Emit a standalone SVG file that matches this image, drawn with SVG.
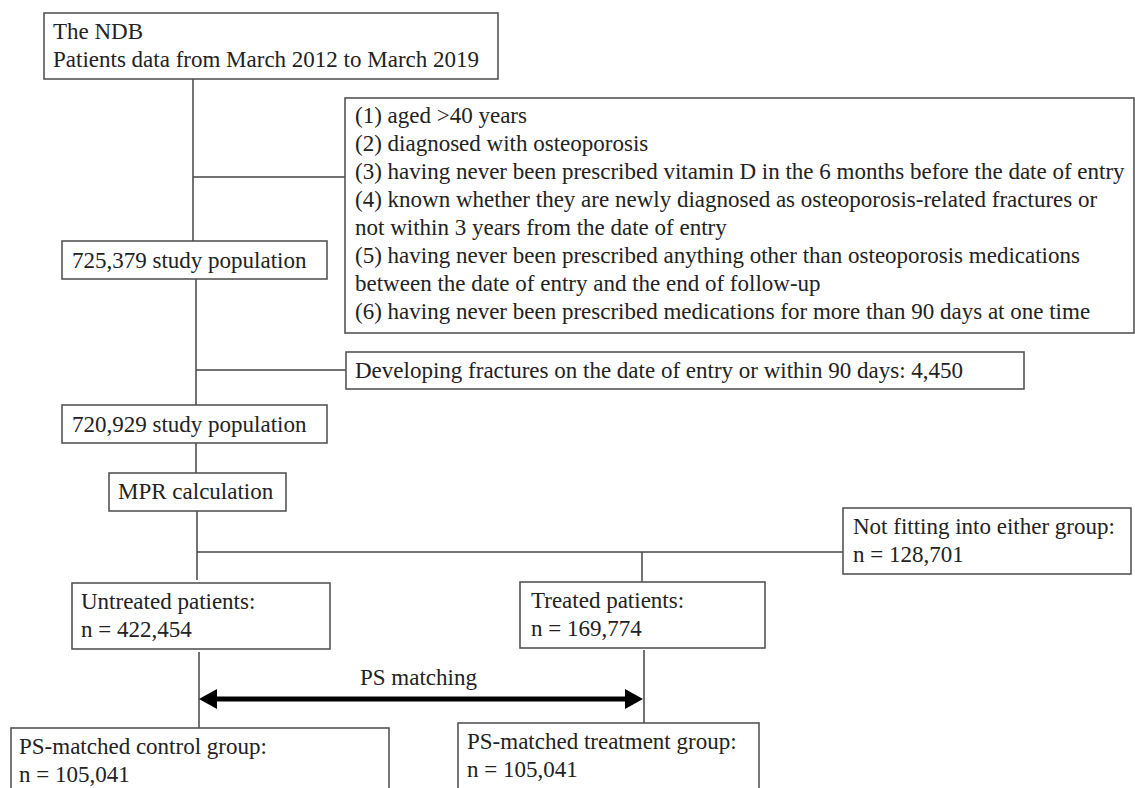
<svg xmlns="http://www.w3.org/2000/svg" width="1135" height="788" viewBox="0 0 1135 788">
<style>
.box{fill:#fff;stroke:#555;stroke-width:1.6}
.t{font-family:"Liberation Serif","Times New Roman",serif;font-size:23px;fill:#222}
.c{stroke:#444;stroke-width:1.5;fill:none}
.arr{stroke:#000;stroke-width:5;fill:none}
</style>
<defs>
<marker id="ah" viewBox="0 0 18 20" refX="4" refY="10" markerWidth="18" markerHeight="20" markerUnits="userSpaceOnUse" orient="auto-start-reverse">
<path d="M0,0 L18,10 L0,20 z" fill="#000"/>
</marker>
</defs>
<rect width="1135" height="788" fill="#fff"/>
<g id="connectors">
<line class="c" x1="193" y1="79" x2="193" y2="241"/>
<line class="c" x1="193" y1="177" x2="345" y2="177"/>
<line class="c" x1="196" y1="279" x2="196" y2="405"/>
<line class="c" x1="196" y1="370" x2="346" y2="370"/>
<line class="c" x1="196" y1="443" x2="196" y2="473"/>
<line class="c" x1="197" y1="511" x2="197" y2="580"/>
<line class="c" x1="197" y1="552" x2="843" y2="552"/>
<line class="c" x1="642" y1="552" x2="642" y2="582"/>
<line class="c" x1="199" y1="652" x2="199" y2="728"/>
<line class="c" x1="644" y1="650" x2="644" y2="723"/>
<line class="arr" x1="213" y1="699" x2="629" y2="699" marker-start="url(#ah)" marker-end="url(#ah)"/>
<text class="t" x="360" y="685">PS matching</text>
</g>
<g id="ndb">
<rect class="box" x="44" y="13" width="454" height="66"/>
<text class="t" x="53" y="39">The NDB</text>
<text class="t" x="53" y="67">Patients data from March 2012 to March 2019</text>
</g>
<g id="criteria">
<rect class="box" x="345" y="98" width="789" height="235"/>
<text class="t" x="355" y="123">(1) aged &gt;40 years</text>
<text class="t" x="355" y="151">(2) diagnosed with osteoporosis</text>
<text class="t" x="355" y="179">(3) having never been prescribed vitamin D in the 6 months before the date of entry</text>
<text class="t" x="355" y="207">(4) known whether they are newly diagnosed as osteoporosis-related fractures or</text>
<text class="t" x="355" y="235">not within 3 years from the date of entry</text>
<text class="t" x="355" y="263">(5) having never been prescribed anything other than osteoporosis medications</text>
<text class="t" x="355" y="291">between the date of entry and the end of follow-up</text>
<text class="t" x="355" y="319">(6) having never been prescribed medications for more than 90 days at one time</text>
</g>
<g id="pop725">
<rect class="box" x="62" y="241" width="265" height="38"/>
<text class="t" x="72" y="268">725,379 study population</text>
</g>
<g id="developing">
<rect class="box" x="346" y="352" width="678" height="37"/>
<text class="t" x="355" y="378">Developing fractures on the date of entry or within 90 days: 4,450</text>
</g>
<g id="pop720">
<rect class="box" x="62" y="405" width="265" height="38"/>
<text class="t" x="72" y="432">720,929 study population</text>
</g>
<g id="mpr">
<rect class="box" x="109" y="473" width="177" height="38"/>
<text class="t" x="118" y="499">MPR calculation</text>
</g>
<g id="notfitting">
<rect class="box" x="843" y="508" width="288" height="66"/>
<text class="t" x="853" y="534">Not fitting into either group:</text>
<text class="t" x="853" y="562">n = 128,701</text>
</g>
<g id="untreated">
<rect class="box" x="72" y="583" width="258" height="66"/>
<text class="t" x="81" y="609">Untreated patients:</text>
<text class="t" x="81" y="637">n = 422,454</text>
</g>
<g id="treated">
<rect class="box" x="520" y="582" width="245" height="66"/>
<text class="t" x="531" y="608">Treated patients:</text>
<text class="t" x="531" y="636">n = 169,774</text>
</g>
<g id="control">
<rect class="box" x="11" y="728" width="378" height="70"/>
<text class="t" x="19" y="754">PS-matched control group:</text>
<text class="t" x="19" y="782">n = 105,041</text>
</g>
<g id="treatment">
<rect class="box" x="458" y="723" width="301" height="75"/>
<text class="t" x="467" y="749">PS-matched treatment group:</text>
<text class="t" x="467" y="777">n = 105,041</text>
</g>
</svg>
